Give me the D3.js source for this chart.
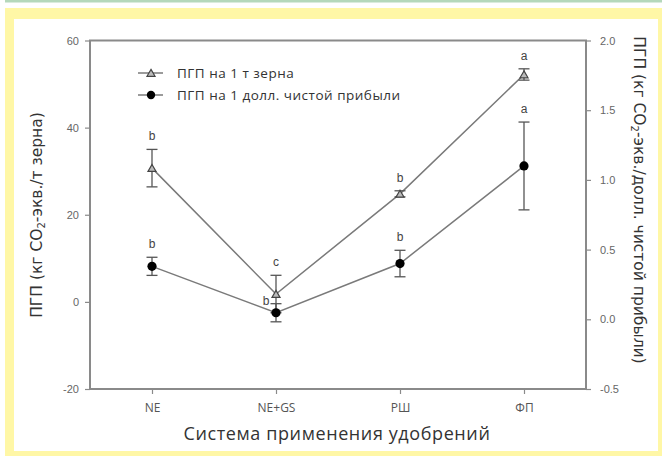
<!DOCTYPE html>
<html><head><meta charset="utf-8">
<script src="https://cdn.jsdelivr.net/npm/d3@7/dist/d3.min.js"></script>
<style>body{margin:0;background:#fff;}svg{display:block;}</style>
</head><body>
<svg id="c" width="662" height="456"></svg>
<script>
const categories = ["NE", "NE+GS", "РШ", "ФП"];
const grainValues = [30.7, 1.8, 24.8, 52.2];
const grainErrors = [4.3, 4.3, 0.7, 1.3];
const grainLetters = ["b", "c", "b", "a"];
const profitValues = [0.38, 0.047, 0.40, 1.10];
const profitErrors = [0.065, 0.065, 0.095, 0.315];
const profitLetters = ["b", "b", "b", "a"];
const leftTicks = [-20, 0, 20, 40, 60];
const rightTicks = [-0.5, 0.0, 0.5, 1.0, 1.5, 2.0];
const seriesNames = ["ПГП на 1 т зерна", "ПГП на 1 долл. чистой прибыли"];

const svg = d3.select("#c");
// frame
svg.append("rect").attr("x",5).attr("y",0).attr("width",657).attr("height",2.5).attr("fill","#b5d8bb");
svg.append("rect").attr("x",5).attr("y",8).attr("width",657).attr("height",448).attr("fill","#fff7a6");
svg.append("rect").attr("x",14).attr("y",19).attr("width",644).attr("height",432).attr("fill","#ffffff");

const L=90,R=586,T=40.5,B=389;
const x = d3.scalePoint().domain(categories).range([L,R]).padding(0.5);
const yL = d3.scaleLinear().domain([-20,60]).range([B,T]);
const yR = d3.scaleLinear().domain([-0.5,2.0]).range([B,T]);
const axisCol="#8a8a8a";

// box
svg.append("rect").attr("x",L).attr("y",T).attr("width",R-L).attr("height",B-T)
  .attr("fill","none").attr("stroke",axisCol).attr("stroke-width",2);

const fmtL = d => String(d), fmtR = d => d.toFixed(1);
const gl = svg.append("g").attr("transform",`translate(${L},0)`)
  .call(d3.axisLeft(yL).tickValues(leftTicks).tickFormat(fmtL).tickSize(5).tickPadding(6));
const gr = svg.append("g").attr("transform",`translate(${R},0)`)
  .call(d3.axisRight(yR).tickValues(rightTicks).tickFormat(fmtR).tickSize(5).tickPadding(9));
const gb = svg.append("g").attr("transform",`translate(0,${B})`)
  .call(d3.axisBottom(x).tickSize(5).tickPadding(9));
[gl,gr,gb].forEach(g=>{
  g.select(".domain").remove();
  g.selectAll(".tick line").attr("stroke",axisCol).attr("stroke-width",1.2);
  g.selectAll(".tick text").attr("fill","#666").attr("font-family","Liberation Sans, Arial, sans-serif").attr("font-size",11);
});
gb.selectAll(".tick text").attr("font-family","Open Sans, sans-serif").attr("font-size",12).attr("fill","#555");

// lines
const lineCol="#7a7a7a";
const lineG = d3.line().x((d,i)=>x(categories[i])).y(d=>yL(d));
const lineP = d3.line().x((d,i)=>x(categories[i])).y(d=>yR(d));
svg.append("path").attr("d",lineG(grainValues)).attr("fill","none").attr("stroke",lineCol).attr("stroke-width",1.5);
svg.append("path").attr("d",lineP(profitValues)).attr("fill","none").attr("stroke",lineCol).attr("stroke-width",1.5);

// error bars
function errBars(vals, errs, y){
  const g = svg.append("g").attr("stroke","#555").attr("stroke-width",1.3);
  vals.forEach((v,i)=>{
    const cx=x(categories[i]);
    g.append("line").attr("x1",cx).attr("x2",cx).attr("y1",y(v+errs[i])).attr("y2",y(v-errs[i]));
    g.append("line").attr("x1",cx-5.5).attr("x2",cx+5.5).attr("y1",y(v+errs[i])).attr("y2",y(v+errs[i]));
    g.append("line").attr("x1",cx-5.5).attr("x2",cx+5.5).attr("y1",y(v-errs[i])).attr("y2",y(v-errs[i]));
  });
}
errBars(grainValues, grainErrors, yL);
errBars(profitValues, profitErrors, yR);

const tri = d3.symbol().type(d3.symbolTriangle).size(28);
svg.append("g").selectAll("path").data(grainValues).join("path")
  .attr("d",tri).attr("transform",(d,i)=>`translate(${x(categories[i])},${yL(d)+1})`)
  .attr("fill","#bbb").attr("stroke","#444").attr("stroke-width",1.2);
svg.append("g").selectAll("circle").data(profitValues).join("circle")
  .attr("cx",(d,i)=>x(categories[i])).attr("cy",d=>yR(d)).attr("r",4.6).attr("fill","#000");

// letters
const letterFont = "Liberation Sans, Arial, sans-serif";
svg.append("g").selectAll("text").data(grainLetters).join("text")
  .attr("x",(d,i)=>x(categories[i])).attr("y",(d,i)=>yL(grainValues[i]+grainErrors[i])-9)
  .attr("text-anchor","middle").attr("font-family",letterFont).attr("font-size",12).attr("fill","#444").text(d=>d);
svg.append("g").selectAll("text").data(profitLetters).join("text")
  .attr("x",(d,i)=> i===1 ? x(categories[i])-10 : x(categories[i]))
  .attr("y",(d,i)=> i===1 ? yR(profitValues[i])-8 : yR(profitValues[i]+profitErrors[i])-9)
  .attr("text-anchor","middle").attr("font-family",letterFont).attr("font-size",12).attr("fill","#444").text(d=>d);

// legend
const lg = svg.append("g");
[0,1].forEach(k=>{
  const yy = 73 + k*22;
  lg.append("line").attr("x1",138).attr("x2",163).attr("y1",yy).attr("y2",yy).attr("stroke",lineCol).attr("stroke-width",1.5);
  if(k===0) lg.append("path").attr("d",tri).attr("transform",`translate(151,${yy+1})`).attr("fill","#bbb").attr("stroke","#444").attr("stroke-width",1.2);
  else lg.append("circle").attr("cx",151).attr("cy",yy).attr("r",4.2).attr("fill","#000");
  lg.append("text").attr("x",177).attr("y",yy+4.5).attr("font-family","Open Sans, sans-serif").attr("font-size",13.5)
    .attr("letter-spacing",0.5).attr("fill","#333").text(seriesNames[k]);
});

// axis titles
function yTitle(xc, yc, rot, before, after){
  const t = svg.append("text").attr("transform",`translate(${xc},${yc}) rotate(${rot})`)
    .attr("text-anchor","middle").attr("font-family","DejaVu Sans, sans-serif").attr("font-size",15.5).attr("fill","#333");
  t.append("tspan").text(before);
  t.append("tspan").attr("baseline-shift","-30%").attr("font-size",10).text("2");
  t.append("tspan").text(after);
}
yTitle(42, 215, -90, "ПГП (кг CO", "-экв./т зерна)");
yTitle(634, 200, 90, "ПГП (кг CO", "-экв./долл. чистой прибыли)");

svg.append("text").attr("x",337).attr("y",440).attr("text-anchor","middle")
  .attr("font-family","Open Sans, sans-serif").attr("font-size",18).attr("letter-spacing",0.6).attr("fill","#333").text("Система применения удобрений");
</script>
</body></html>
